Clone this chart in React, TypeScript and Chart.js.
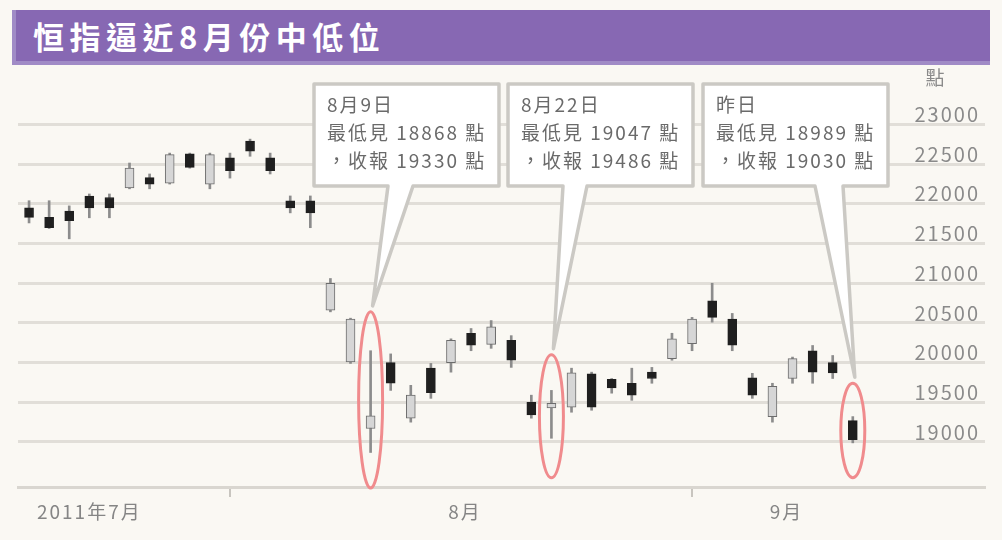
import React, { useEffect, useRef } from "react";
import { Chart, registerables } from "chart.js";

Chart.register(...registerables);

// trading days, 2011-07-15 .. 2011-09-12
const dates = [
  "7/15", "7/18", "7/19", "7/20", "7/21", "7/22", "7/25", "7/26", "7/27", "7/28", "7/29",
  "8/1", "8/2", "8/3", "8/4", "8/5", "8/8", "8/9", "8/10", "8/11", "8/12", "8/15", "8/16",
  "8/17", "8/18", "8/19", "8/22", "8/23", "8/24", "8/25", "8/26", "8/29", "8/30", "8/31",
  "9/1", "9/2", "9/5", "9/6", "9/7", "9/8", "9/9", "9/12",
];
const opens = [
  21950, 21830, 21910, 22100, 22080, 22200, 22330, 22260, 22630, 22250, 22580,
  22790, 22580, 22040, 22040, 20660, 20010, 19170, 20000, 19300, 19930, 20000, 20370,
  20230, 20280, 19500, 19430, 19440, 19860, 19790, 19740, 19880, 20050, 20240,
  20780, 20550, 19810, 19320, 19800, 20150, 20000, 19270,
];
const highs = [
  22040, 22040, 21975, 22125, 22125, 22515, 22377, 22640, 22640, 22640, 22640,
  22816, 22640, 22100, 22100, 21060, 20560, 20150, 20110, 19714, 19990, 20300, 20430,
  20530, 20340, 19590, 19650, 19930, 19880, 19800, 19930, 19940, 20370, 20570,
  21000, 20620, 19865, 19740, 20070, 20216, 20090, 19320,
];
const lows = [
  21760, 21690, 21560, 21825, 21825, 22190, 22190, 22250, 22450, 22190, 22325,
  22600, 22377, 21887, 21700, 20640, 19990, 18868, 19650, 19250, 19550, 19880, 20150,
  20180, 19940, 19300, 19047, 19375, 19400, 19615, 19525, 19740, 20030, 20150,
  20510, 20150, 19550, 19250, 19740, 19740, 19800, 18989,
];
const closes = [
  21830, 21700, 21790, 21950, 21950, 22450, 22250, 22620, 22460, 22620, 22420,
  22665, 22420, 21950, 21887, 21000, 20550, 19330, 19740, 19590, 19620, 20280, 20220,
  20450, 20030, 19340, 19486, 19870, 19440, 19680, 19590, 19800, 20300, 20550,
  20570, 20220, 19590, 19700, 20050, 19880, 19870, 19030,
];

const yTicks = [19000, 19500, 20000, 20500, 21000, 21500, 22000, 22500, 23000];
const monthEnds = [10, 33];
const monthLabels = ["2011年7月", "8月", "9月"];
const monthLabelPos = [3, 21.7, 37.7];

// highlighted days (index into dates), ellipse extent in index points
const highlightIdx = [17, 26, 41];
const highlightTop = [20640, 20100, 19740];
const highlightBottom = [18420, 18550, 18550];
const calloutHeads = ["8月9日", "8月22日", "昨日"];

const FONT = "'Noto Sans CJK TC', 'Noto Sans', sans-serif";

const overlay = {
  id: "overlay",
  beforeDraw(chart: any) {
    chart.ctx.letterSpacing = "2px";
  },
  afterDatasetsDraw(chart: any) {
    const { ctx, scales } = chart;
    const xs = scales.xb;
    const ys = scales.y;
    const boxLeft = [314, 508, 703];
    const baseL = [74, 55, 112];
    const baseR = [99, 79, 140];
    const top = 84;
    const w = 185;
    const h = 102;
    ctx.save();
    ctx.letterSpacing = "2px";
    highlightIdx.forEach((idx, k) => {
      const cx = xs.getPixelForValue(idx);
      const t = ys.getPixelForValue(highlightTop[k]);
      const b = ys.getPixelForValue(highlightBottom[k]);
      // ellipse
      ctx.beginPath();
      ctx.ellipse(cx, (t + b) / 2, 12, (b - t) / 2, 0, 0, Math.PI * 2);
      ctx.strokeStyle = "#f08b8d";
      ctx.lineWidth = 3;
      ctx.stroke();
      // callout box + wedge
      const l = boxLeft[k];
      ctx.beginPath();
      ctx.moveTo(l, top);
      ctx.lineTo(l + w, top);
      ctx.lineTo(l + w, top + h);
      ctx.lineTo(l + baseR[k], top + h);
      ctx.lineTo(cx + 2, t - 6);
      ctx.lineTo(l + baseL[k], top + h);
      ctx.lineTo(l, top + h);
      ctx.closePath();
      ctx.fillStyle = "#ffffff";
      ctx.fill();
      ctx.strokeStyle = "#cbc9c4";
      ctx.lineWidth = 3.5;
      ctx.lineJoin = "round";
      ctx.stroke();
      ctx.fillStyle = "#6a6a6a";
      ctx.font = `19px ${FONT}`;
      ctx.textBaseline = "middle";
      ctx.textAlign = "left";
      ctx.fillText(calloutHeads[k], l + 13, top + 21);
      ctx.fillText(`最低見 ${lows[idx]} 點`, l + 13, top + 49);
      ctx.fillText(`，收報 ${closes[idx]} 點`, l + 13, top + 77);
    });
    // unit
    ctx.fillStyle = "#8a8a8a";
    ctx.font = `19px ${FONT}`;
    ctx.textAlign = "center";
    ctx.textBaseline = "middle";
    ctx.fillText("點", chart.chartArea.right - 49, ys.getPixelForValue(23000) - 47);
    ctx.restore();
  },
};

export default function App() {
  const canvasRef = useRef<HTMLCanvasElement>(null);

  useEffect(() => {
    document.body.style.margin = "0";
    document.body.style.background = "#faf8f3";
    const canvas = canvasRef.current;
    if (!canvas) return;
    const up = opens.map((o, i) => closes[i] >= o);
    const chart = new Chart(canvas, {
      type: "bar",
      data: {
        datasets: [
          {
            label: "body",
            data: dates.map((_, i) => ({ x: i, y: [opens[i], closes[i]] })) as any,
            backgroundColor: up.map((u) => (u ? "#d6d6d6" : "#1f1f1f")),
            borderColor: up.map((u) => (u ? "#6c6c6c" : "#1f1f1f")),
            borderWidth: 1,
            borderSkipped: false,
            barThickness: 9,
            grouped: false,
            order: 0,
            xAxisID: "xb",
            yAxisID: "y",
          },
          {
            label: "wick",
            data: dates.map((_, i) => ({ x: i, y: [lows[i], highs[i]] })) as any,
            backgroundColor: "#8c8c8c",
            borderWidth: 0,
            barThickness: 2,
            grouped: false,
            order: 1,
            xAxisID: "xb",
            yAxisID: "y",
          },
        ],
      },
      options: {
        animation: false,
        responsive: true,
        maintainAspectRatio: false,
        events: [],
        layout: { padding: { left: 18, right: 17, top: 70, bottom: 0 } },
        plugins: { legend: { display: false }, tooltip: { enabled: false } },
        scales: {
          xb: {
            type: "linear",
            position: "bottom",
            min: -0.55,
            max: 47.58,
            offset: false,
            weight: 0,
            afterBuildTicks: (s: any) => {
              s.ticks = monthEnds.map((v) => ({ value: v }));
            },
            afterFit: (s: any) => {
              s.height = 0;
            },
            grid: {
              offset: false,
              drawOnChartArea: false,
              drawTicks: true,
              tickLength: 10,
              color: "#c8c5bf",
              lineWidth: 2,
            },
            border: { display: true, color: "#d9d6d0", width: 3 },
            ticks: { callback: () => "" },
          },
          xl: {
            type: "linear",
            position: "bottom",
            min: -0.55,
            max: 47.58,
            offset: false,
            weight: 1,
            afterBuildTicks: (s: any) => {
              s.ticks = monthLabelPos.map((v) => ({ value: v }));
            },
            afterFit: (s: any) => {
              s.height = 53;
            },
            grid: { display: false, drawTicks: false, offset: false },
            border: { display: false },
            ticks: {
              autoSkip: false,
              maxRotation: 0,
              padding: 13,
              color: "#858585",
              font: { family: FONT, size: 19 },
              callback: (_v: any, i: number) => monthLabels[i],
            },
          },
          y: {
            type: "linear",
            position: "right",
            min: 18433,
            max: 23687,
            beginAtZero: false,
            afterBuildTicks: (s: any) => {
              s.ticks = yTicks.map((v) => ({ value: v }));
            },
            afterFit: (s: any) => {
              s.width = 0;
            },
            grid: { color: "#e1ded8", lineWidth: 3, drawTicks: false },
            border: { display: false },
            ticks: {
              mirror: true,
              padding: -5,
              labelOffset: -10,
              color: "#8a8a8a",
              font: { family: FONT, size: 20 },
              callback: (v: any) => String(v),
            },
          },
        },
      },
      plugins: [overlay],
    });
    return () => chart.destroy();
  }, []);

  return (
    <div style={{ position: "relative", width: 1002, height: 540 }}>
      <canvas ref={canvasRef} />
      <div
        style={{
          position: "absolute",
          left: 12,
          top: 10,
          width: 978,
          height: 55,
          boxSizing: "border-box",
          background: "#8768b3",
          borderLeft: "4px solid #a08bc6",
          borderBottom: "4px solid #a08bc6",
          color: "#ffffff",
          fontFamily: FONT,
          fontWeight: 700,
          fontSize: 31,
          letterSpacing: 5.5,
          lineHeight: "51px",
          paddingLeft: 17,
        }}
      >
        恒指逼近8月份中低位
      </div>
    </div>
  );
}
